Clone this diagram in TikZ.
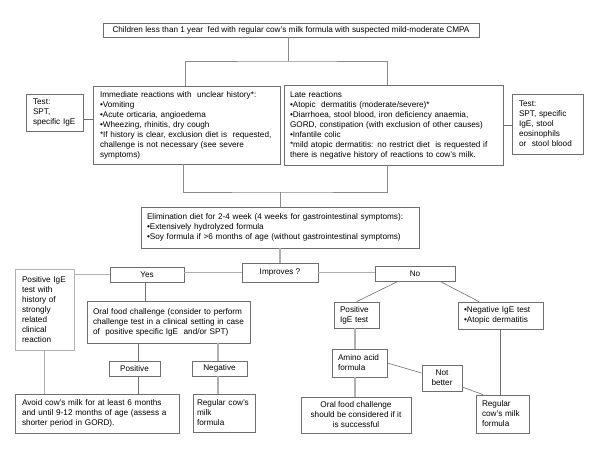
\documentclass[tikz,border=0pt]{standalone}
\usepackage{fontspec}
\setmainfont{Liberation Sans}
\definecolor{bordc}{HTML}{6E6E6E}
\definecolor{linec}{HTML}{8A8A8A}
\definecolor{lightc}{HTML}{B0B0B0}
\newcommand\padl[1]{\leftskip=#1pt\relax}
\begin{document}
\begin{tikzpicture}[x=1pt,y=-1pt,
  box/.style={draw=bordc,line width=0.7pt,inner sep=0pt,align=left,
    font=\fontsize{8.2}{10}\selectfont},
  cbox/.style={box,align=center},
  conn/.style={draw=linec,line width=0.9pt},
  lconn/.style={draw=lightc,line width=1.3pt},
  tconn/.style={draw=bordc,line width=0.6pt}]
\useasboundingbox[fill=white] (0,0) rectangle (600,450);
% boxes
\node[cbox,minimum width=376,minimum height=14] (top) at (291,30)
  {Children less than 1 year\ \ fed with regular cow's milk formula with suspected mild-moderate CMPA};
\node[box,text width=187,minimum height=78] (imm) at (186.5,125)
  {\padl{7}Immediate reactions with\ \ unclear history*:\\
   •Vomiting\\
   •Acute orticaria, angioedema\\
   •Wheezing, rhinitis, dry cough\\
   {}*If history is clear, exclusion diet is\ \ requested,\\
   challenge is not necessary (see severe\\
   symptoms)\par};
\node[box,text width=219,minimum height=80] (late) at (393.5,125)
  {\padl{6}Late reactions\\
   •Atopic\ \ dermatitis (moderate/severe)*\\
   •Diarrhoea, stool blood, iron deficiency anaemia,\\
   GORD, constipation (with exclusion of other causes)\\
   •Infantile colic\\
   {}*mild atopic dermatitis: no restrict diet\ \ is requested if\\
   there is negative history of reactions to cow's milk.\par};
\node[box,text width=57,minimum height=37] (testL) at (54.5,112.5)
  {\padl{7}Test:\\SPT,\\specific IgE\par};
\node[box,text width=71,minimum height=60] (testR) at (547.5,124)
  {\padl{7}Test:\\SPT, specific\\IgE, stool\\eosinophils\\or\ \ stool blood\par};
\node[box,text width=278,minimum height=41] (elim) at (280,227.5)
  {\padl{6}Elimination diet for 2-4 week (4 weeks for gastrointestinal symptoms):\\
   •Extensively hydrolyzed formula\\
   •Soy formula if >6 months of age (without gastrointestinal symptoms)\par};
\node[cbox,minimum width=76,minimum height=19] (impr) at (280,272.5) {Improves ?};
\node[cbox,minimum width=74,minimum height=15] (yes) at (147,274.5) {Yes};
\node[cbox,minimum width=80,minimum height=15] (no) at (415,273.5) {No};
\node[box,draw=lightc,text width=59,minimum height=81] (posL) at (44.5,309.5)
  {\padl{7}Positive IgE\\test with\\history of\\strongly\\related\\clinical\\reaction\par};
\node[box,text width=163,minimum height=42] (oral) at (168.5,322)
  {\padl{6}Oral food challenge (consider to perform\\
   challenge test in a clinical setting in case\\
   of\ \ positive specific IgE\ \ and/or SPT)\par};
\node[cbox,minimum width=51,minimum height=15] (pos) at (134.5,368.5) {Positive};
\node[cbox,minimum width=55,minimum height=15] (neg) at (219.5,368.5) {Negative};
\node[box,text width=164,minimum height=39] (avoid) at (97,413.5)
  {\padl{7}Avoid cow's milk for at least 6 months\\
   and until 9-12 months of age (assess a\\
   shorter period in GORD).\par};
\node[box,text width=62,minimum height=38] (regL) at (224,413)
  {\padl{4}Regular cow's\\milk\\formula\par};
\node[box,text width=45,minimum height=26] (pos2) at (356.5,315)
  {\padl{6}Positive\\IgE test\par};
\node[box,text width=85,minimum height=27] (negIgE) at (500.5,315.5)
  {\padl{6}•Negative IgE test\\•Atopic dermatitis\par};
\node[box,text width=55,minimum height=28] (amino) at (359.5,363)
  {\padl{6}Amino acid\\formula\par};
\node[cbox,minimum width=110,minimum height=36] (oral2) at (356,415)
  {Oral food challenge\\should be considered if it\\is successful};
\node[cbox,minimum width=40,minimum height=26] (notb) at (442,378)
  {Not\\better};
\node[box,text width=53,minimum height=38] (regR) at (502.5,414)
  {\padl{6}Regular\\cow's milk\\formula\par};
% junctions
\coordinate (jt) at (288,61);
\coordinate (jb) at (280,192);
\coordinate (jl) at (0,119);
% connectors
\draw[conn] (top.south -| jt) -- (jt);
\draw[conn] ([xshift=-1.5pt]imm.north) |- (jt) -| ([xshift=-6.5pt]late.north);
\draw[conn] ([xshift=-3.5pt]imm.south) |- (jb) -| ([xshift=-6.5pt]late.south);
\draw[conn] (jb) -- (elim.north);
\draw[tconn] (testL.east |- jl) -- (imm.west |- jl);
\draw[tconn] (late.east) -- (late.east -| testR.west);
\draw[lconn] (elim.south) -- (impr.north);
\draw[lconn] (impr.west) -- (impr.west -| yes.east);
\draw[lconn] (impr.east) -- (impr.east -| no.west);
\draw[draw=lightc,line width=0.6pt] (yes.west) -- (yes.west -| posL.east);
\draw[tconn] ([xshift=-2pt]yes.south) -- ([xshift=-2pt]yes.south |- oral.north);
\draw[draw=lightc,line width=0.8pt] (posL.south) -- (posL.south |- avoid.north);
\draw[tconn] ([xshift=3.5pt]pos.north |- oral.south) -- ([xshift=3.5pt]pos.north);
\draw[tconn] ([xshift=3.5pt]pos.south) -- ([xshift=3.5pt]pos.south |- avoid.north);
\draw[lconn] ([xshift=-1.5pt]neg.north |- oral.south) -- ([xshift=-1.5pt]neg.north);
\draw[lconn] ([xshift=-1.5pt]neg.south) -- ([xshift=-1.5pt]neg.south |- regL.north);
\draw[tconn] ([xshift=-17pt]no.south) -- (pos2.north);
\draw[tconn] ([xshift=25pt]no.south) -- ([xshift=-21.5pt]negIgE.north);
\draw[lconn] ([xshift=-1.5pt]pos2.south) -- ([xshift=-1.5pt]pos2.south |- amino.north);
\draw[lconn] ([xshift=-4.5pt]amino.south) -- ([xshift=-4.5pt]amino.south |- oral2.north);
\draw[tconn] (amino.east) -- ([yshift=5pt]notb.west);
\draw[tconn] ([yshift=-9pt]notb.east) -- ([xshift=-19.5pt]regR.north);
\draw[tconn] (negIgE.south) -- (negIgE.south |- regR.north);
\end{tikzpicture}
\end{document}
